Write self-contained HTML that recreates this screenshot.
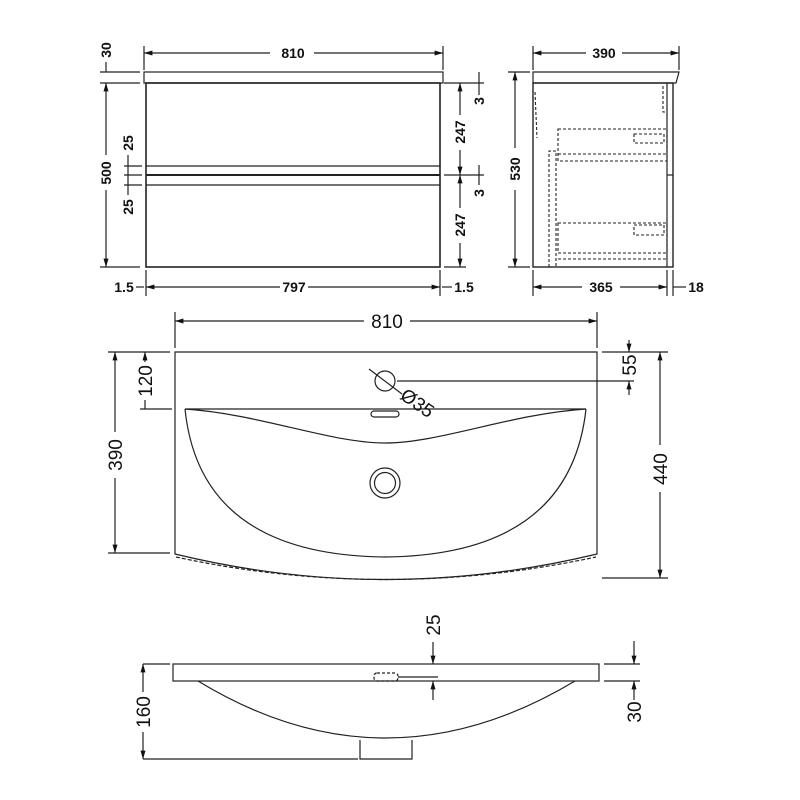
<!DOCTYPE html>
<html><head><meta charset="utf-8"><style>
html,body{margin:0;padding:0;background:#fff;}
svg{display:block}
text{font-family:"Liberation Sans",sans-serif;fill:#111;}
.b{font-weight:bold;font-size:14px}
.m{font-size:19px}
</style></head><body>
<svg width="800" height="800" viewBox="0 0 800 800" xmlns="http://www.w3.org/2000/svg">
<defs>
<marker id="a" viewBox="0 0 10 10" refX="10" refY="5" markerWidth="7" markerHeight="7" orient="auto-start-reverse"><path d="M0,2 L10,5 L0,8 z" fill="#111"/></marker>
</defs>
<g stroke="#222" fill="none" stroke-width="1.2">
<rect x="144" y="72" width="299" height="11"/>
<rect x="146" y="83" width="294" height="184" stroke-width="1.6"/>
<line x1="146" y1="166" x2="440" y2="166"/>
<line x1="146" y1="175" x2="440" y2="175" stroke-width="2"/>
<line x1="146" y1="185" x2="440" y2="185"/>
<line x1="144" y1="46" x2="144" y2="70"/><line x1="443" y1="46" x2="443" y2="70"/>
<line x1="144" y1="53" x2="270" y2="53" marker-start="url(#a)"/><line x1="314" y1="53" x2="443" y2="53" marker-end="url(#a)"/>
<line x1="100" y1="72" x2="140" y2="72"/><line x1="100" y1="83" x2="140" y2="83"/><line x1="100" y1="267" x2="140" y2="267"/>
<line x1="106" y1="62" x2="106" y2="72"/>
<line x1="106" y1="83" x2="106" y2="155" marker-start="url(#a)"/><line x1="106" y1="190" x2="106" y2="267" marker-end="url(#a)"/>
<line x1="124" y1="166" x2="142" y2="166"/><line x1="124" y1="175" x2="142" y2="175"/><line x1="124" y1="185" x2="142" y2="185"/>
<line x1="128" y1="155" x2="128" y2="195"/>
<line x1="444" y1="83" x2="484" y2="83"/><line x1="444" y1="175" x2="484" y2="175"/><line x1="444" y1="267" x2="466" y2="267"/>
<line x1="460" y1="83" x2="460" y2="115" marker-start="url(#a)"/><line x1="460" y1="150" x2="460" y2="175" marker-end="url(#a)"/>
<line x1="460" y1="175" x2="460" y2="208" marker-start="url(#a)"/><line x1="460" y1="243" x2="460" y2="267" marker-end="url(#a)"/>
<line x1="479" y1="72" x2="479" y2="95"/><line x1="479" y1="165" x2="479" y2="185"/>
<line x1="146" y1="270" x2="146" y2="296"/><line x1="440" y1="270" x2="440" y2="296"/>
<line x1="146" y1="287" x2="280" y2="287" marker-start="url(#a)"/><line x1="308" y1="287" x2="440" y2="287" marker-end="url(#a)"/>
<line x1="136" y1="287" x2="144" y2="287"/><line x1="442" y1="287" x2="452" y2="287"/>

<path d="M533,72 L679,72 L676,83 L533,83 Z"/>
<rect x="533" y="83" width="140" height="184" stroke-width="1.4"/>
<line x1="667" y1="83" x2="667" y2="267"/>
<line x1="667" y1="175" x2="673" y2="175"/>
<g stroke-dasharray="3,2" stroke-width="1.1">
<rect x="558" y="129" width="109" height="32"/>
<line x1="558" y1="154" x2="667" y2="154"/>
<rect x="634" y="134" width="30" height="9"/>
<rect x="558" y="223" width="109" height="30"/>
<line x1="558" y1="259" x2="667" y2="259"/>
<rect x="634" y="225" width="30" height="10"/>
<path d="M549,267 L549,151 L556,151 L556,267"/>
<path d="M663,86 L663,112 L667,112"/>
<path d="M535,92 L537,138"/>
</g>
<line x1="533" y1="46" x2="533" y2="70"/><line x1="679" y1="46" x2="679" y2="70"/>
<line x1="533" y1="53" x2="586" y2="53" marker-start="url(#a)"/><line x1="622" y1="53" x2="679" y2="53" marker-end="url(#a)"/>
<line x1="508" y1="72" x2="530" y2="72"/><line x1="508" y1="267" x2="530" y2="267"/>
<line x1="515" y1="72" x2="515" y2="148" marker-start="url(#a)"/><line x1="515" y1="190" x2="515" y2="267" marker-end="url(#a)"/>
<line x1="533" y1="270" x2="533" y2="296"/><line x1="667" y1="270" x2="667" y2="296"/><line x1="673" y1="270" x2="673" y2="296"/>
<line x1="533" y1="287" x2="582" y2="287" marker-start="url(#a)"/><line x1="620" y1="287" x2="667" y2="287" marker-end="url(#a)"/>
<line x1="673" y1="287" x2="686" y2="287"/>

<path d="M175,352 L597,352 L597,554 Q385,605 175,554 Z"/>
<path d="M176,557 Q385,602 596,557" stroke-dasharray="4,2"/>
<path d="M185,409 L586,409"/>
<path d="M185,409 C260,414 330,443 385,443 C440,443 510,414 586,409"/>
<path d="M185,409 Q200,555 385,557 Q570,555 586,409"/>
<circle cx="385" cy="483" r="15"/><circle cx="385" cy="483" r="10.5"/>
<rect x="371" y="411" width="28" height="6" rx="3"/>
<circle cx="385" cy="381" r="10"/>
<line x1="369" y1="369" x2="402" y2="394"/>
<line x1="397" y1="381" x2="634" y2="381"/>
<line x1="175" y1="312" x2="175" y2="348"/><line x1="597" y1="312" x2="597" y2="348"/>
<line x1="175" y1="321" x2="364" y2="321" marker-start="url(#a)"/><line x1="410" y1="321" x2="597" y2="321" marker-end="url(#a)"/>
<line x1="108" y1="352" x2="170" y2="352"/><line x1="108" y1="553" x2="170" y2="553"/>
<line x1="115" y1="352" x2="115" y2="432" marker-start="url(#a)"/><line x1="115" y1="478" x2="115" y2="553" marker-end="url(#a)"/>
<line x1="140" y1="409" x2="172" y2="409"/>
<line x1="145" y1="352" x2="145" y2="362" marker-start="url(#a)"/><line x1="145" y1="400" x2="145" y2="409"/>
<line x1="602" y1="352" x2="668" y2="352"/><line x1="602" y1="578" x2="668" y2="578"/>
<line x1="660" y1="352" x2="660" y2="445" marker-start="url(#a)"/><line x1="660" y1="492" x2="660" y2="578" marker-end="url(#a)"/>
<line x1="629" y1="340" x2="629" y2="352" marker-end="url(#a)"/><line x1="629" y1="381" x2="629" y2="395" marker-start="url(#a)"/>

<rect x="173" y="664" width="426" height="17"/>
<path d="M198,681 Q385,795 575,681"/>
<path d="M360,740 L360,759 L412,759 L412,740"/>
<rect x="374" y="673" width="24" height="8" rx="3" stroke-dasharray="3,2"/>
<line x1="398" y1="677" x2="438" y2="677"/>
<line x1="143" y1="664" x2="170" y2="664"/><line x1="143" y1="759" x2="358" y2="759"/>
<line x1="143" y1="664" x2="143" y2="692" marker-start="url(#a)"/><line x1="143" y1="732" x2="143" y2="759" marker-end="url(#a)"/>
<line x1="433" y1="642" x2="433" y2="664" marker-end="url(#a)"/><line x1="433" y1="681" x2="433" y2="700" marker-start="url(#a)"/>
<line x1="604" y1="664" x2="640" y2="664"/><line x1="604" y1="681" x2="640" y2="681"/>
<line x1="634" y1="641" x2="634" y2="664" marker-end="url(#a)"/><line x1="634" y1="681" x2="634" y2="700" marker-start="url(#a)"/>
</g>

<g class="b">
<text x="293" y="58" text-anchor="middle">810</text>
<text x="294" y="292" text-anchor="middle">797</text>
<text x="124" y="292" text-anchor="middle">1.5</text>
<text x="464" y="292" text-anchor="middle">1.5</text>
<text x="604" y="58" text-anchor="middle">390</text>
<text x="601" y="292" text-anchor="middle">365</text>
<text x="696" y="292" text-anchor="middle">18</text>
<text transform="translate(111,50) rotate(-90)" text-anchor="middle">30</text>
<text transform="translate(111,173) rotate(-90)" text-anchor="middle">500</text>
<text transform="translate(133,143) rotate(-90)" text-anchor="middle">25</text>
<text transform="translate(133,207) rotate(-90)" text-anchor="middle">25</text>
<text transform="translate(465,132) rotate(-90)" text-anchor="middle">247</text>
<text transform="translate(465,225) rotate(-90)" text-anchor="middle">247</text>
<text transform="translate(484,101) rotate(-90)" text-anchor="middle">3</text>
<text transform="translate(484,193) rotate(-90)" text-anchor="middle">3</text>
<text transform="translate(520,169) rotate(-90)" text-anchor="middle">530</text>
</g>
<g class="m">
<text x="387" y="328" text-anchor="middle">810</text>
<text transform="translate(122,455) rotate(-90)" text-anchor="middle">390</text>
<text transform="translate(152,381) rotate(-90)" text-anchor="middle">120</text>
<text transform="translate(667,469) rotate(-90)" text-anchor="middle">440</text>
<text transform="translate(636,365) rotate(-90)" text-anchor="middle">55</text>
<text transform="translate(399,398) rotate(35)">Ø35</text>
<text transform="translate(150,712) rotate(-90)" text-anchor="middle">160</text>
<text transform="translate(440,625) rotate(-90)" text-anchor="middle">25</text>
<text transform="translate(641,712) rotate(-90)" text-anchor="middle">30</text>
</g>
</svg>
</body></html>
